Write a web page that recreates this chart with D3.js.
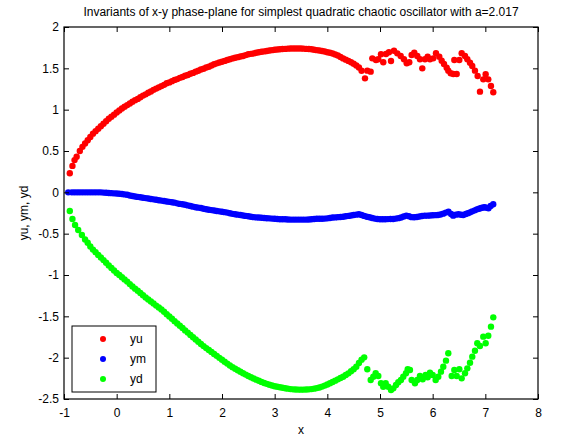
<!DOCTYPE html>
<html>
<head>
<meta charset="utf-8">
<script src="https://cdn.jsdelivr.net/npm/d3@7"></script>
<style>
  body { margin: 0; background: #fff; }
  svg { display: block; font-family: "Liberation Sans", Arial, sans-serif; }
</style>
</head>
<body>
<svg id="chart" width="564" height="439"></svg>
<script>
var titleText = 'Invariants of x-y phase-plane for simplest quadratic chaotic oscillator with a=2.017';
var xLabel = 'x';
var yLabel = 'yu, ym, yd';
var seriesNames = ['yu', 'ym', 'yd'];
var seriesColors = ['#ff0000', '#0000ff', '#00ff00'];
var xTicks = [-1, 0, 1, 2, 3, 4, 5, 6, 7, 8];
var yTicks = [2, 1.5, 1, 0.5, 0, -0.5, -1, -1.5, -2, -2.5];

// upper invariant
var yuPoints = [
  [-0.89, 0.23], [-0.84, 0.32], [-0.80, 0.39], [-0.76, 0.43], [-0.70, 0.50], [-0.65, 0.55],
  [-0.60, 0.59], [-0.55, 0.63], [-0.50, 0.67], [-0.45, 0.71], [-0.40, 0.74], [-0.35, 0.77],
  [-0.30, 0.80], [-0.25, 0.83], [-0.20, 0.86], [-0.15, 0.89], [-0.10, 0.915], [-0.05, 0.94],
  [0.00, 0.965], [0.05, 0.99], [0.10, 1.015], [0.15, 1.035], [0.20, 1.055], [0.25, 1.075],
  [0.30, 1.095], [0.35, 1.115], [0.40, 1.13], [0.45, 1.15], [0.50, 1.17], [0.55, 1.185],
  [0.60, 1.205], [0.65, 1.22], [0.70, 1.24], [0.75, 1.255], [0.80, 1.27], [0.85, 1.285],
  [0.90, 1.30], [0.95, 1.32], [1.00, 1.33], [1.05, 1.345], [1.10, 1.36], [1.15, 1.37],
  [1.20, 1.385], [1.25, 1.395], [1.30, 1.41], [1.35, 1.42], [1.40, 1.435], [1.45, 1.445],
  [1.50, 1.46], [1.55, 1.47], [1.60, 1.485], [1.65, 1.495], [1.70, 1.51], [1.75, 1.52],
  [1.80, 1.535], [1.85, 1.55], [1.90, 1.56], [1.95, 1.57], [2.00, 1.58], [2.05, 1.59],
  [2.10, 1.60], [2.15, 1.61], [2.20, 1.62], [2.25, 1.628], [2.30, 1.635], [2.35, 1.643],
  [2.40, 1.65], [2.45, 1.66], [2.50, 1.67], [2.55, 1.675], [2.60, 1.68], [2.65, 1.688],
  [2.70, 1.695], [2.75, 1.70], [2.80, 1.705], [2.85, 1.71], [2.90, 1.715], [2.95, 1.72],
  [3.00, 1.725], [3.05, 1.728], [3.10, 1.73], [3.15, 1.733], [3.20, 1.735], [3.25, 1.738],
  [3.30, 1.74], [3.35, 1.74], [3.40, 1.74], [3.45, 1.74], [3.50, 1.74], [3.55, 1.738],
  [3.60, 1.735], [3.65, 1.733], [3.70, 1.73], [3.75, 1.725], [3.80, 1.72], [3.85, 1.715],
  [3.90, 1.71], [3.95, 1.703], [4.00, 1.695], [4.05, 1.688], [4.10, 1.68], [4.15, 1.668],
  [4.20, 1.655], [4.25, 1.638], [4.30, 1.62], [4.35, 1.605], [4.40, 1.59], [4.45, 1.573],
  [4.50, 1.555], [4.55, 1.535], [4.60, 1.51], [4.65, 1.47],
  [4.715, 1.379], [4.759, 1.472], [4.823, 1.46], [4.854, 1.621], [4.924, 1.601], [4.968, 1.609],
  [5.019, 1.670], [5.062, 1.573], [5.114, 1.673], [5.170, 1.694], [5.209, 1.589], [5.266, 1.713],
  [5.328, 1.681], [5.393, 1.649], [5.455, 1.609], [5.507, 1.561], [5.556, 1.573], [5.601, 1.661],
  [5.651, 1.689], [5.708, 1.649], [5.759, 1.609], [5.803, 1.50], [5.854, 1.609], [5.905, 1.641],
  [5.949, 1.609], [6.011, 1.621], [6.063, 1.682], [6.126, 1.641], [6.171, 1.592], [6.215, 1.552],
  [6.266, 1.508], [6.297, 1.472], [6.342, 1.44], [6.392, 1.431], [6.456, 1.431], [6.411, 1.601],
  [6.506, 1.601], [6.551, 1.682], [6.614, 1.649], [6.658, 1.609], [6.709, 1.568], [6.752, 1.528],
  [6.803, 1.472], [6.854, 1.407], [6.898, 1.218], [6.961, 1.367], [7.006, 1.428], [7.056, 1.367],
  [7.107, 1.286], [7.151, 1.21]
];

// middle invariant
var ymPoints = [
  [-0.92, 0], [-0.85, 0], [-0.80, 0], [-0.75, 0], [-0.70, 0], [-0.65, 0], [-0.60, 0], [-0.55, 0],
  [-0.50, 0], [-0.45, 0], [-0.40, 0], [-0.35, 0], [-0.30, 0], [-0.25, -0.003], [-0.20, -0.005],
  [-0.15, -0.008], [-0.10, -0.01], [-0.05, -0.012], [0.00, -0.015], [0.05, -0.018], [0.10, -0.02],
  [0.15, -0.025], [0.20, -0.03], [0.25, -0.038], [0.30, -0.045], [0.35, -0.05], [0.40, -0.055],
  [0.45, -0.06], [0.50, -0.065], [0.55, -0.07], [0.60, -0.075], [0.65, -0.08], [0.70, -0.085],
  [0.75, -0.09], [0.80, -0.095], [0.85, -0.1], [0.90, -0.105], [0.95, -0.11], [1.00, -0.115],
  [1.05, -0.12], [1.10, -0.125], [1.15, -0.133], [1.20, -0.14], [1.25, -0.145], [1.30, -0.15],
  [1.35, -0.158], [1.40, -0.165], [1.45, -0.173], [1.50, -0.18], [1.55, -0.185], [1.60, -0.19],
  [1.65, -0.198], [1.70, -0.205], [1.75, -0.21], [1.80, -0.215], [1.85, -0.22], [1.90, -0.225],
  [1.95, -0.23], [2.00, -0.235], [2.05, -0.24], [2.10, -0.245], [2.15, -0.253], [2.20, -0.26],
  [2.25, -0.265], [2.30, -0.27], [2.35, -0.275], [2.40, -0.28], [2.45, -0.285], [2.50, -0.29],
  [2.55, -0.295], [2.60, -0.3], [2.65, -0.303], [2.70, -0.305], [2.75, -0.308], [2.80, -0.31],
  [2.85, -0.313], [2.90, -0.315], [2.95, -0.318], [3.00, -0.32], [3.05, -0.323], [3.10, -0.325],
  [3.15, -0.325], [3.20, -0.325], [3.25, -0.328], [3.30, -0.33], [3.35, -0.33], [3.40, -0.33],
  [3.45, -0.33], [3.50, -0.33], [3.55, -0.33], [3.60, -0.33], [3.65, -0.328], [3.70, -0.325],
  [3.75, -0.323], [3.80, -0.32], [3.85, -0.32], [3.90, -0.32], [3.95, -0.318], [4.00, -0.315],
  [4.05, -0.31], [4.10, -0.305], [4.15, -0.303], [4.20, -0.3], [4.25, -0.298], [4.30, -0.295],
  [4.35, -0.29], [4.40, -0.285], [4.45, -0.28], [4.50, -0.275], [4.55, -0.27], [4.60, -0.265],
  [4.65, -0.275], [4.70, -0.285], [4.75, -0.295], [4.80, -0.302], [4.85, -0.31], [4.90, -0.318],
  [4.95, -0.322], [5.00, -0.326], [5.05, -0.326], [5.10, -0.326], [5.15, -0.324], [5.20, -0.322],
  [5.25, -0.322], [5.30, -0.318], [5.35, -0.312], [5.40, -0.305], [5.45, -0.292], [5.50, -0.282],
  [5.55, -0.29], [5.60, -0.3], [5.65, -0.302], [5.70, -0.298], [5.75, -0.292], [5.80, -0.286],
  [5.85, -0.282], [5.90, -0.282], [5.95, -0.28], [6.00, -0.278], [6.05, -0.276], [6.10, -0.274],
  [6.15, -0.268], [6.20, -0.258], [6.25, -0.245], [6.30, -0.234], [6.35, -0.262], [6.39, -0.282],
  [6.44, -0.27], [6.49, -0.266], [6.54, -0.272], [6.58, -0.274], [6.63, -0.262], [6.67, -0.252],
  [6.71, -0.242], [6.75, -0.23], [6.80, -0.218], [6.84, -0.206], [6.88, -0.198], [6.92, -0.19],
  [6.96, -0.184], [6.99, -0.181], [7.03, -0.188], [7.06, -0.193], [7.10, -0.165], [7.15, -0.145]
];

// lower invariant
var ydPoints = [
  [-0.89, -0.226], [-0.84, -0.323], [-0.79, -0.395], [-0.73, -0.456], [-0.66, -0.516], [-0.60, -0.57],
  [-0.55, -0.61], [-0.50, -0.655], [-0.45, -0.693], [-0.40, -0.725], [-0.35, -0.757], [-0.30, -0.789],
  [-0.25, -0.82], [-0.20, -0.852], [-0.15, -0.884], [-0.10, -0.916], [-0.05, -0.945], [0.00, -0.975],
  [0.05, -1.0], [0.10, -1.027], [0.15, -1.053], [0.20, -1.08], [0.25, -1.11], [0.30, -1.14],
  [0.35, -1.165], [0.40, -1.19], [0.45, -1.218], [0.50, -1.245], [0.55, -1.272], [0.60, -1.297],
  [0.65, -1.32], [0.70, -1.345], [0.75, -1.37], [0.80, -1.393], [0.85, -1.418], [0.90, -1.445],
  [0.95, -1.474], [1.00, -1.502], [1.05, -1.53], [1.10, -1.558], [1.15, -1.586], [1.20, -1.614],
  [1.25, -1.642], [1.30, -1.67], [1.35, -1.697], [1.40, -1.725], [1.45, -1.753], [1.50, -1.78],
  [1.55, -1.808], [1.60, -1.835], [1.65, -1.86], [1.70, -1.884], [1.75, -1.907], [1.80, -1.93],
  [1.85, -1.955], [1.90, -1.978], [1.95, -2.002], [2.00, -2.025], [2.05, -2.05], [2.10, -2.072],
  [2.15, -2.094], [2.20, -2.115], [2.25, -2.134], [2.30, -2.153], [2.35, -2.17], [2.40, -2.188],
  [2.45, -2.205], [2.50, -2.222], [2.55, -2.237], [2.60, -2.252], [2.65, -2.266], [2.70, -2.28],
  [2.75, -2.293], [2.80, -2.306], [2.85, -2.317], [2.90, -2.328], [2.95, -2.337], [3.00, -2.345],
  [3.05, -2.352], [3.10, -2.358], [3.15, -2.364], [3.20, -2.37], [3.25, -2.375], [3.30, -2.38],
  [3.35, -2.383], [3.40, -2.385], [3.45, -2.386], [3.50, -2.387], [3.55, -2.386], [3.60, -2.385],
  [3.65, -2.383], [3.70, -2.38], [3.75, -2.375], [3.80, -2.368], [3.85, -2.36], [3.90, -2.35],
  [3.95, -2.338], [4.00, -2.325], [4.05, -2.31], [4.10, -2.295], [4.15, -2.278], [4.20, -2.262],
  [4.25, -2.246], [4.30, -2.23], [4.35, -2.21], [4.40, -2.19], [4.45, -2.165], [4.50, -2.14],
  [4.55, -2.11], [4.60, -2.065], [4.65, -2.025], [4.70, -1.996],
  [4.759, -2.141], [4.823, -2.27], [4.873, -2.23], [4.918, -2.189], [4.968, -2.221], [5.019, -2.31],
  [5.062, -2.351], [5.108, -2.31], [5.157, -2.351], [5.209, -2.391], [5.253, -2.371], [5.304, -2.331],
  [5.347, -2.298], [5.398, -2.27], [5.442, -2.23], [5.493, -2.189], [5.526, -2.141], [5.569, -2.149],
  [5.601, -2.27], [5.664, -2.31], [5.708, -2.27], [5.759, -2.221], [5.810, -2.262], [5.867, -2.209],
  [5.905, -2.238], [5.949, -2.181], [6.000, -2.209], [6.057, -2.27], [6.107, -2.23], [6.158, -2.169],
  [6.202, -2.109], [6.253, -2.036], [6.297, -1.947], [6.361, -2.221], [6.411, -2.149], [6.456, -2.221],
  [6.506, -2.141], [6.551, -2.25], [6.614, -2.189], [6.658, -2.129], [6.709, -2.061], [6.752, -1.988],
  [6.803, -1.916], [6.847, -1.826], [6.898, -1.859], [6.961, -1.746], [7.006, -1.826], [7.056, -1.734],
  [7.107, -1.625], [7.151, -1.512]
];

var allSeries = [yuPoints, ymPoints, ydPoints];

var margin = { top: 27, right: 26, bottom: 40, left: 64 };
var width = 564 - margin.left - margin.right;
var height = 439 - margin.top - margin.bottom;

var svg = d3.select('#chart');
var g = svg.append('g')
    .attr('transform', 'translate(' + margin.left + ',' + margin.top + ')');

var xScale = d3.scaleLinear().domain([-1, 8]).range([0, width]);
var yScale = d3.scaleLinear().domain([-2.5, 2]).range([height, 0]);

// data dots
allSeries.forEach(function (pts, i) {
    g.append('g')
        .attr('fill', seriesColors[i])
        .selectAll('circle')
        .data(pts)
        .join('circle')
        .attr('cx', d => xScale(d[0]))
        .attr('cy', d => yScale(d[1]))
        .attr('r', 3.2);
});

// axes, ticks pointing inwards on every side
var tickLen = 5;
var fmt = d => String(d);

g.append('g')
    .attr('transform', 'translate(0,' + height + ')')
    .call(d3.axisBottom(xScale).tickValues(xTicks).tickFormat(fmt).tickSizeInner(-tickLen).tickSizeOuter(0).tickPadding(9));
g.append('g')
    .call(d3.axisTop(xScale).tickValues(xTicks).tickFormat('').tickSizeInner(-tickLen).tickSizeOuter(0));
g.append('g')
    .call(d3.axisLeft(yScale).tickValues(yTicks).tickFormat(fmt).tickSizeInner(-tickLen).tickSizeOuter(0).tickPadding(5));
g.append('g')
    .attr('transform', 'translate(' + width + ',0)')
    .call(d3.axisRight(yScale).tickValues(yTicks).tickFormat('').tickSizeInner(-tickLen).tickSizeOuter(0));

g.selectAll('.domain').remove();
g.selectAll('.tick line').attr('stroke', '#000');
g.selectAll('.tick text')
    .attr('fill', '#000')
    .style('font-size', '12px')
    .style('font-family', '"Liberation Sans", Arial, sans-serif');

g.append('rect')
    .attr('width', width)
    .attr('height', height)
    .attr('fill', 'none')
    .attr('stroke', '#000')
    .attr('stroke-width', 1.2);

// labels
svg.append('text')
    .attr('x', margin.left + width / 2)
    .attr('y', 16)
    .attr('text-anchor', 'middle')
    .style('font-size', '12px')
    .text(titleText);

svg.append('text')
    .attr('x', margin.left + width / 2)
    .attr('y', 434)
    .attr('text-anchor', 'middle')
    .style('font-size', '12px')
    .text(xLabel);

svg.append('text')
    .attr('transform', 'translate(28,' + (margin.top + height / 2) + ') rotate(-90)')
    .attr('text-anchor', 'middle')
    .style('font-size', '12px')
    .text(yLabel);

// legend
var legend = g.append('g').attr('transform', 'translate(8,299)');
legend.append('rect')
    .attr('width', 84)
    .attr('height', 66)
    .attr('fill', '#fff')
    .attr('stroke', '#000');
seriesNames.forEach(function (name, i) {
    legend.append('circle')
        .attr('cx', 31)
        .attr('cy', 13 + i * 20)
        .attr('r', 3)
        .attr('fill', seriesColors[i]);
    legend.append('text')
        .attr('x', 58)
        .attr('y', 17 + i * 20)
        .style('font-size', '12px')
        .text(name);
});
</script>
</body>
</html>
